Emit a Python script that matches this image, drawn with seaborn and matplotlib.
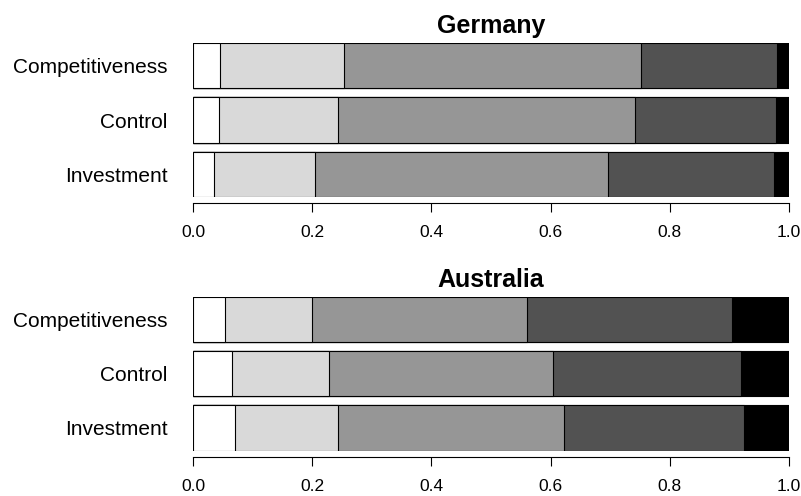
import numpy as np
import pandas as pd
import matplotlib
matplotlib.use('Agg')
import matplotlib.pyplot as plt
import seaborn as sns

categories = ['Competitiveness', 'Control', 'Investment']

# shares of each response level (left to right), per category
germany_l1 = [0.046, 0.043, 0.035]
germany_l2 = [0.208, 0.201, 0.170]
germany_l3 = [0.498, 0.498, 0.491]
germany_l4 = [0.228, 0.237, 0.278]
germany_l5 = [0.020, 0.021, 0.026]

australia_l1 = [0.054, 0.065, 0.070]
australia_l2 = [0.145, 0.164, 0.173]
australia_l3 = [0.362, 0.375, 0.379]
australia_l4 = [0.344, 0.315, 0.302]
australia_l5 = [0.095, 0.081, 0.076]

x_ticks = [0.0, 0.2, 0.4, 0.6, 0.8, 1.0]
greys = ['#FFFFFF', '#D9D9D9', '#969696', '#525252', '#000000']

sns.set_style('white')
plt.rcParams['font.family'] = ['Liberation Sans', 'DejaVu Sans']
plt.rcParams['text.color'] = 'black'
plt.rcParams['xtick.color'] = 'black'
plt.rcParams['ytick.color'] = 'black'
plt.rcParams['axes.labelcolor'] = 'black'

fig = plt.figure(figsize=(8.01, 4.96), dpi=100)
W, H = 801, 496
left, right = 193, 789
bar_w = 1 / 1.2


def draw_panel(top_px, title, levels):
    height_px = 153.5
    ax = fig.add_axes([left / W, 1 - (top_px + height_px) / H,
                       (right - left) / W, height_px / H])
    cum = np.cumsum(np.array(levels), axis=0)
    # draw cumulative bars from the longest to the shortest so segments show
    for i in range(len(levels) - 1, -1, -1):
        df = pd.DataFrame({'cat': categories, 'val': cum[i]})
        sns.barplot(data=df, x='val', y='cat', orient='h', color=greys[i],
                    saturation=1, width=bar_w, edgecolor='black',
                    linewidth=0.8, errorbar=None, ax=ax)
    ax.set_xlim(0, 1)
    ax.set_ylim(2 + bar_w / 2, -bar_w / 2)
    ax.set_xlabel('')
    ax.set_ylabel('')
    for s in ['top', 'right', 'left']:
        ax.spines[s].set_visible(False)
    ax.spines['bottom'].set_position(('outward', 4.5))
    ax.spines['bottom'].set_bounds(0, 1)
    ax.spines['bottom'].set_color('black')
    ax.spines['bottom'].set_linewidth(0.8)
    ax.set_xticks(x_ticks)
    ax.set_xticklabels([f'{t:.1f}' for t in x_ticks])
    ax.tick_params(axis='x', bottom=True, length=6.5, width=0.8,
                   labelsize=12.5, pad=9.5)
    ax.tick_params(axis='y', left=False, labelsize=15, pad=15)
    ax.set_title(title, fontsize=18, fontweight='bold', pad=7.5)
    return ax


draw_panel(43.3, 'Germany',
           [germany_l1, germany_l2, germany_l3, germany_l4, germany_l5])
draw_panel(297, 'Australia',
           [australia_l1, australia_l2, australia_l3, australia_l4, australia_l5])

fig.savefig('out.png', dpi=100)
